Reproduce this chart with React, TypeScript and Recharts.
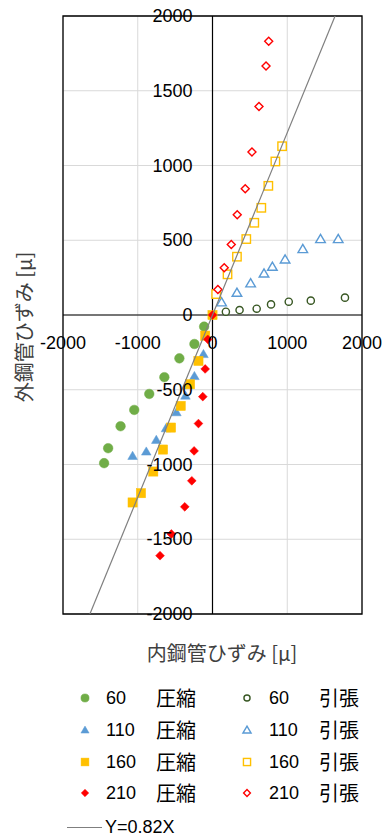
import React from 'react';
import {
  ScatterChart,
  Scatter,
  XAxis,
  YAxis,
  CartesianGrid,
  ReferenceLine,
  ReferenceArea,
} from 'recharts';

type Pt = [number, number];

// 圧縮 (compression) series
const C60: Pt[] = [[-112, -78], [-242, -194], [-443, -290], [-644, -416], [-846, -528], [-1047, -635], [-1230, -744], [-1396, -891], [-1450, -991]];
const C110: Pt[] = [[-121, -261], [-242, -408], [-362, -539], [-483, -650], [-622, -757], [-752, -835], [-886, -913], [-1069, -942]];
const C160: Pt[] = [[0, 0], [-98, -138], [-188, -307], [-300, -463], [-425, -608], [-555, -753], [-662, -900], [-792, -1047], [-957, -1192], [-1069, -1254]];
const C210: Pt[] = [[0, 0], [-63, -163], [-98, -361], [-130, -546], [-188, -726], [-246, -909], [-277, -1109], [-371, -1283], [-550, -1465], [-702, -1610]];

// 引張 (tension) series
const T60: Pt[] = [[179, 22], [362, 33], [591, 42], [783, 71], [1020, 89], [1315, 96], [1772, 116]];
const T110: Pt[] = [[121, 85], [327, 149], [510, 212], [689, 278], [801, 323], [971, 372], [1208, 441], [1445, 508], [1682, 508]];
const T160: Pt[] = [[49, 140], [201, 272], [327, 390], [452, 508], [559, 617], [653, 717], [747, 864], [841, 1027], [931, 1129]];
const T210: Pt[] = [[72, 171], [157, 316], [251, 472], [331, 670], [438, 844], [528, 1091], [622, 1394], [716, 1666], [752, 1831]];

// Y=0.82X reference line end points
const LINE_X = [-1640, 1640];
const LINE_Y = [-2000, 2000];

const X_TICKS = [-2000, -1000, 0, 1000, 2000];
const Y_TICKS = [-2000, -1500, -1000, -500, 0, 500, 1000, 1500, 2000];

const toPts = (d: Pt[]) => d.map(([x, y]) => ({ x, y }));
const LINE_DATA = LINE_X.map((x, i) => ({ x, y: LINE_Y[i] }));

type Kind = 'circle' | 'triangle' | 'square' | 'diamond';

const SERIES = [
  { label: '60', type: '圧縮', data: C60, kind: 'circle', filled: true, color: '#70AD47' },
  { label: '60', type: '引張', data: T60, kind: 'circle', filled: false, color: '#385723' },
  { label: '110', type: '圧縮', data: C110, kind: 'triangle', filled: true, color: '#5B9BD5' },
  { label: '110', type: '引張', data: T110, kind: 'triangle', filled: false, color: '#5B9BD5' },
  { label: '160', type: '圧縮', data: C160, kind: 'square', filled: true, color: '#FFC000' },
  { label: '160', type: '引張', data: T160, kind: 'square', filled: false, color: '#FFC000' },
  { label: '210', type: '圧縮', data: C210, kind: 'diamond', filled: true, color: '#FF0000' },
  { label: '210', type: '引張', data: T210, kind: 'diamond', filled: false, color: '#FF0000' },
];

const W = 382;
const H = 630;
const M = { top: 16, right: 20, bottom: 15, left: 62 };
const X0 = 63 + 299 / 2; // pixel of x=0
const Y0 = 16 + 598 / 2; // pixel of y=0

const NUM_FONT = "'Liberation Sans', Arial, sans-serif";
const JP_FONT = "'Noto Sans CJK JP', 'Liberation Sans', sans-serif";

function marker(cx: number, cy: number, kind: Kind, filled: boolean, color: string, scale = 1) {
  const fill = filled ? color : '#fff';
  const sw = filled ? 0.5 : 1.4;
  if (kind === 'circle') {
    const r = (filled ? 4.8 : 3.6) * scale;
    return <circle cx={cx} cy={cy} r={r} fill={fill} stroke={color} strokeWidth={sw} />;
  }
  if (kind === 'square') {
    const h = (filled ? 4.6 : 4.2) * scale;
    return <rect x={cx - h} y={cy - h} width={h * 2} height={h * 2} fill={fill} stroke={color} strokeWidth={sw} />;
  }
  if (kind === 'triangle') {
    const w = 4.8 * scale;
    const t = 4.6 * scale;
    const b = 3.6 * scale;
    return (
      <polygon
        points={`${cx},${cy - t} ${cx + w},${cy + b} ${cx - w},${cy + b}`}
        fill={fill}
        stroke={color}
        strokeWidth={sw}
      />
    );
  }
  const d = (filled ? 4.4 : 4.0) * scale;
  return (
    <polygon
      points={`${cx},${cy - d} ${cx + d},${cy} ${cx},${cy + d} ${cx - d},${cy}`}
      fill={fill}
      stroke={color}
      strokeWidth={sw}
    />
  );
}

const XTick = (p: any) => (
  <text x={p.x} y={Y0 + 28} textAnchor="middle" dominantBaseline="central" fontSize={18} fontFamily={NUM_FONT} fill="#000">
    {p.payload.value}
  </text>
);

const YTick = (p: any) => (
  <text x={X0 - 20} y={p.y} textAnchor="end" dominantBaseline="central" fontSize={18} fontFamily={NUM_FONT} fill="#000">
    {p.payload.value}
  </text>
);

function LegendBlock() {
  const rows = [0, 1, 2, 3];
  const rowY = [698, 730, 762, 793];
  return (
    <>
      {rows.map((r) =>
        [0, 1].map((c) => {
          const s = SERIES[r * 2 + c];
          const mx = c === 0 ? 85 : 247;
          const nx = c === 0 ? 106 : 269;
          const tx = c === 0 ? 156 : 319;
          const y = rowY[r];
          return (
            <React.Fragment key={`${r}-${c}`}>
              <svg style={{ position: 'absolute', left: mx - 8, top: y - 8 }} width={16} height={16}>
                {marker(8, 8, s.kind as Kind, s.filled, s.color, 0.85)}
              </svg>
              <span style={{ position: 'absolute', left: nx, top: y - 11, lineHeight: '22px', fontSize: 18, fontFamily: NUM_FONT, color: '#000' }}>
                {s.label}
              </span>
              <span style={{ position: 'absolute', left: tx, top: y - 12, lineHeight: '24px', fontSize: 20, fontFamily: JP_FONT, color: '#000' }}>
                {s.type}
              </span>
            </React.Fragment>
          );
        })
      )}
      <div style={{ position: 'absolute', left: 67, top: 827, width: 35, height: 1, background: '#7f7f7f' }} />
      <span style={{ position: 'absolute', left: 105, top: 827 - 11, lineHeight: '22px', fontSize: 18, fontFamily: NUM_FONT, color: '#000' }}>
        Y=0.82X
      </span>
    </>
  );
}

export default function App() {
  return (
    <div style={{ position: 'relative', width: W, height: 838, background: '#fff', overflow: 'hidden' }}>
      <style>{'body{margin:0}'}</style>
      <ScatterChart width={W} height={H} margin={M} style={{ overflow: 'visible' }}>
        <CartesianGrid stroke="#d9d9d9" strokeWidth={1} />
        <XAxis
          type="number"
          dataKey="x"
          domain={[-2000, 2000]}
          ticks={X_TICKS}
          height={1}
          axisLine={false}
          tickLine={false}
          tick={XTick}
          interval={0}
          allowDataOverflow
        />
        <YAxis
          type="number"
          dataKey="y"
          domain={[-2000, 2000]}
          ticks={Y_TICKS}
          width={1}
          axisLine={false}
          tickLine={false}
          tick={YTick}
          interval={0}
          allowDataOverflow
        />
        <ReferenceArea x1={-2000} x2={2000} y1={-2000} y2={2000} fill="none" stroke="#000" strokeWidth={1.3} />
        <ReferenceLine x={0} stroke="#000" strokeWidth={1.2} />
        <ReferenceLine y={0} stroke="#000" strokeWidth={1.2} />
        {SERIES.map((s, i) => (
          <Scatter
            key={i}
            name={`${s.label} ${s.type}`}
            data={toPts(s.data)}
            isAnimationActive={false}
            shape={(p: any) => marker(p.cx, p.cy, s.kind as Kind, s.filled, s.color)}
          />
        ))}
        <Scatter
          name="Y=0.82X"
          data={LINE_DATA}
          line={{ stroke: '#7f7f7f', strokeWidth: 1.2 }}
          stroke="#7f7f7f"
          fill="none"
          isAnimationActive={false}
          shape={() => <g />}
        />
      </ScatterChart>
      <div
        style={{
          position: 'absolute',
          left: 23,
          top: 327,
          transform: 'translate(-50%, -50%) rotate(-90deg)',
          whiteSpace: 'nowrap',
          fontSize: 20,
          fontFamily: JP_FONT,
          color: '#404040',
        }}
      >
        外鋼管ひずみ [μ]
      </div>
      <div
        style={{
          position: 'absolute',
          left: 222,
          top: 652,
          transform: 'translate(-50%, -50%)',
          whiteSpace: 'nowrap',
          fontSize: 20,
          fontFamily: JP_FONT,
          color: '#404040',
        }}
      >
        内鋼管ひずみ [μ]
      </div>
      <LegendBlock />
    </div>
  );
}
